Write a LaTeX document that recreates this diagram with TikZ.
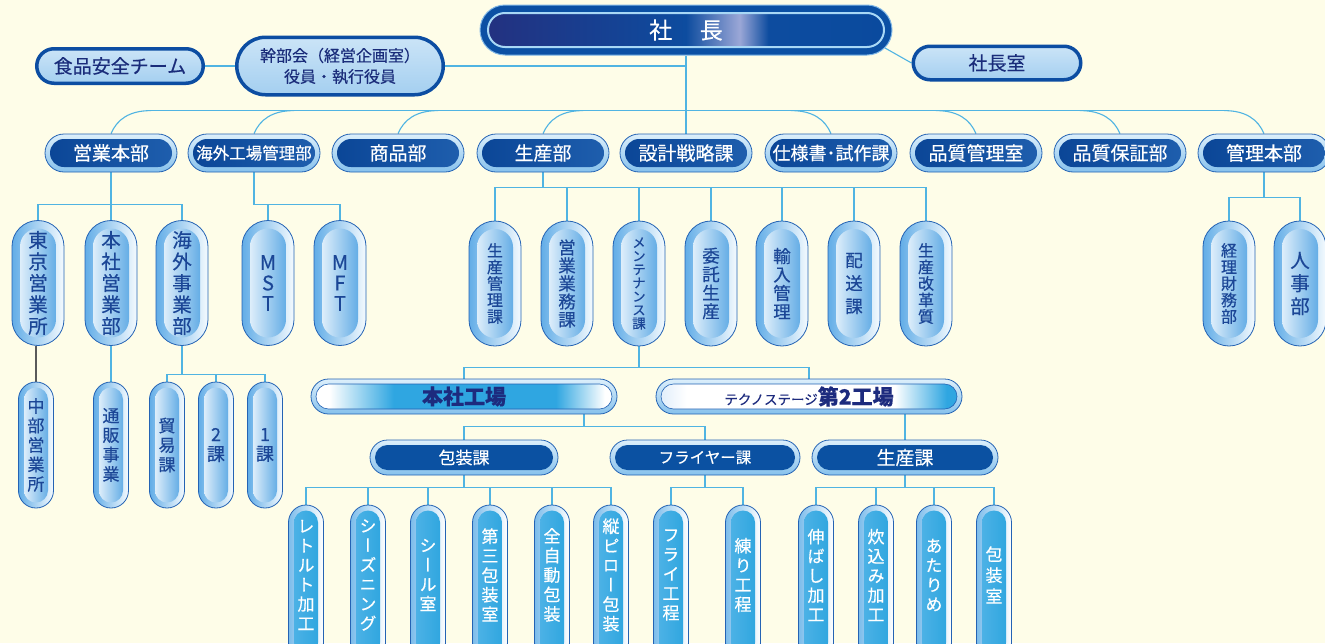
\documentclass[tikz,border=0pt]{standalone}
\usepackage{fontspec}
\newfontfamily\jp[RawFeature={embolden=0.35}]{Noto Sans CJK JP}
\newfontfamily\jpv[RawFeature={+vert;embolden=0.45}]{Noto Sans CJK JP}
\usetikzlibrary{calc}
\pgfdeclarelayer{bg}
\pgfsetlayers{bg,main}
\definecolor{bgc}{HTML}{FEFDE8}
\definecolor{lnc}{HTML}{50B4E2}
\definecolor{ring}{HTML}{2463B4}
\definecolor{ringlt}{HTML}{DCEFFB}
\definecolor{ringdk}{HTML}{86C1EC}
\definecolor{dA}{HTML}{0A4596}
\definecolor{dB}{HTML}{1F5FAE}
\definecolor{secin}{HTML}{0B51A2}
\definecolor{sidebd}{HTML}{0C4DA2}
\definecolor{sidetop}{HTML}{CBE4F7}
\definecolor{sidebot}{HTML}{A4CFF0}
\definecolor{sidetx}{HTML}{1A2C7A}
\definecolor{vtx}{HTML}{1B4696}
\definecolor{voutL}{HTML}{62ADE7}
\definecolor{voutR}{HTML}{F4FAFE}
\definecolor{vinL}{HTML}{F8FCFF}
\definecolor{vinR}{HTML}{4A9FE1}
\definecolor{boutL}{HTML}{7BBCEB}
\definecolor{binL}{HTML}{52B4E7}
\definecolor{binR}{HTML}{2AA4DE}
\definecolor{fb}{HTML}{2FA6E1}
\definecolor{facttx}{HTML}{1D2B7E}
\definecolor{presout}{HTML}{0B50A4}
\definecolor{presedge}{HTML}{7FB6E6}
\definecolor{presring}{HTML}{A8D8F6}
\definecolor{pA}{HTML}{24307F}
\definecolor{pB}{HTML}{0D4C9F}
\definecolor{pC}{HTML}{9BA7D7}
\definecolor{pD}{HTML}{0A4A9E}
\definecolor{tl}{HTML}{DCEBFA}
\definecolor{grayln}{HTML}{5A5A5A}
\pgfdeclarehorizontalshading{presshade}{100bp}{color(0bp)=(pA); color(25bp)=(pA); color(50bp)=(pB); color(56.5bp)=(pC); color(60bp)=(pB); color(75bp)=(pD); color(100bp)=(pD)}
\pgfdeclarehorizontalshading{honshash}{100bp}{color(0bp)=(white); color(28bp)=(white); color(38.5bp)=(fb); color(65bp)=(fb); color(73bp)=(white); color(100bp)=(white)}
\pgfdeclarehorizontalshading{technosh}{100bp}{color(0bp)=(tl); color(25bp)=(tl); color(30bp)=(white); color(64bp)=(white); color(72.5bp)=(fb); color(100bp)=(fb)}
\newcommand\vt[1]{\vbox{\halign{\hfil##\hfil\cr#1\crcr}}}
\newcommand\vtu[1]{\raisebox{7.5pt}[\height][\depth]{\vt{#1}}}
\newcommand\vf[2]{\jpv\fontsize{#1}{#2}\selectfont}
\newcommand\innerbox[3]{\path[#3, rounded corners=#2] ([xshift=#1,yshift=-#1]path picture bounding box.north west) rectangle ([xshift=-#1,yshift=#1]path picture bounding box.south east);}
\tikzset{
 conn/.style={draw=lnc, line width=1.1pt},
 pres/.style={minimum width=412pt, minimum height=50pt, rounded corners=25pt, inner sep=0pt, fill=presout, draw=presedge, line width=1pt, text=white, font=\jp\fontsize{23}{25}\selectfont,
   path picture={\innerbox{8pt}{17pt}{draw=presring, line width=2pt, shade, shading=presshade}}},
 side/.style={inner sep=0pt, draw=sidebd, line width=3.5pt, top color=sidetop, bottom color=sidebot, text=sidetx, font=\jp\fontsize{19}{21}\selectfont, align=center},
 dept/.style={minimum width=132pt, minimum height=38pt, rounded corners=19pt, inner sep=0pt, draw=ring, line width=0.8pt, top color=ringlt, bottom color=ringdk, text=white, font=\jp\fontsize{19}{21}\selectfont,
   path picture={\innerbox{5pt}{14pt}{shade, left color=dA, right color=dB}}},
 sec/.style={minimum height=35pt, rounded corners=17.5pt, inner sep=0pt, draw=ring, line width=0.8pt, top color=ringlt, bottom color=ringdk, text=white,
   path picture={\innerbox{5pt}{12.5pt}{fill=secin}}},
 fact/.style={minimum width=306pt, minimum height=35pt, rounded corners=17.5pt, inner sep=0pt, draw=ring, line width=0.8pt, top color=ringlt, bottom color=ringdk, text=facttx, font=\jp\bfseries\fontsize{21}{23}\selectfont},
 vcap/.style={minimum width=52pt, minimum height=125pt, rounded corners=26pt, inner sep=0pt, draw=ring, line width=0.8pt, left color=voutL, right color=voutR, text=vtx,
   path picture={\innerbox{8pt}{18pt}{shade, left color=vinL, right color=vinR}}},
 scap/.style={minimum width=35pt, minimum height=126pt, rounded corners=17.5pt, inner sep=0pt, draw=ring, line width=0.8pt, left color=voutL, right color=voutR, text=vtx, font={\vf{17}{19.5}},
   path picture={\innerbox{5.5pt}{12pt}{shade, left color=vinL, right color=vinR}}},
 bcap/.style={minimum width=35pt, minimum height=155pt, rounded corners=17.5pt, inner sep=0pt, draw=ring, line width=0.8pt, left color=boutL, right color=white, text=white, font={\vf{17}{19.5}},
   path picture={\innerbox{5.5pt}{12pt}{shade, left color=binL, right color=binR}}},
}
\begin{document}
\begin{tikzpicture}[x=1pt,y=-1pt]
\useasboundingbox (0,0) rectangle (1325,643);
\clip (0,0) rectangle (1325,643);
% top
\node[pres] (pres) at (686,30) {社\hspace{1.2em}長};
\node[side, minimum width=167.5pt, minimum height=33.5pt, rounded corners=16.75pt] (shachoshitsu) at (997,63) {社長室};
\node[side, minimum width=166.5pt, minimum height=34.5pt, rounded corners=17.25pt] (food) at (120,66) {食品安全チーム};
\node[side, minimum width=206.5pt, minimum height=57.5pt, rounded corners=28.75pt, font=\jp\fontsize{16}{21}\selectfont] (kanbu) at (340,66) {幹部会（経営企画室）\\役員・執行役員};
\coordinate (pk) at (885,48);
% departments
\node[dept] (eigyo) at (111,153) {営業本部};
\node[dept, font=\jp\fontsize{16.5}{19}\selectfont] (kaigaikojo) at (254,153) {海外工場管理部};
\node[dept] (shohin) at (398,153) {商品部};
\node[dept] (seisan) at (543,153) {生産部};
\node[dept] (sekkei) at (686,153) {設計戦略課};
\node[dept, font=\jp\fontsize{18}{20}\selectfont] (shiyo) at (831,153) {仕様書･試作課};
\node[dept] (hinkan) at (976,153) {品質管理室};
\node[dept] (hinsho) at (1120,153) {品質保証部};
\node[dept] (kanri) at (1264,153) {管理本部};
% level 2
\node[vcap, font={\vf{19.5}{21.5}}] (tokyo) at (38,283) {\vt{東\cr 京\cr 営\cr 業\cr 所}};
\node[vcap, font={\vf{19.5}{21.5}}] (honshaeigyo) at (111,283) {\vt{本\cr 社\cr 営\cr 業\cr 部}};
\node[vcap, font={\vf{19.5}{21.5}}] (kaigaijigyo) at (182,283) {\vt{海\cr 外\cr 事\cr 業\cr 部}};
\node[vcap, font={\vf{20}{20.5}}] (mst) at (268,283) {\vt{M\cr S\cr T}};
\node[vcap, font={\vf{20}{20.5}}] (mft) at (340,283) {\vt{M\cr F\cr T}};
\node[vcap, font={\vf{16}{16.5}}] (seisankanri) at (495,283.5) {\vt{生\cr 産\cr 管\cr 理\cr 課}};
\node[vcap, font={\vf{17.5}{18}}] (eigyogyomu) at (567,283.5) {\vt{営\cr 業\cr 業\cr 務\cr 課}};
\node[vcap, font={\vf{13.5}{13.5}}] (mainte) at (639,283.5) {\vt{メ\cr ン\cr テ\cr ナ\cr ン\cr ス\cr 課}};
\node[vcap, font={\vf{17.5}{18.5}}] (itaku) at (711,283.5) {\vt{委\cr 託\cr 生\cr 産}};
\node[vcap, font={\vf{17.5}{18.5}}] (yunyu) at (782,283.5) {\vt{輸\cr 入\cr 管\cr 理}};
\node[vcap, font={\vf{17.5}{23}}] (haiso) at (854,283.5) {\vt{配\cr 送\cr 課}};
\node[vcap, font={\vf{16}{16.5}}] (kaikaku) at (926,283.5) {\vt{生\cr 産\cr 改\cr 革\cr 質}};
\node[vcap, font={\vf{16}{16.5}}] (keiri) at (1229,283.5) {\vt{経\cr 理\cr 財\cr 務\cr 部}};
\node[vcap, font={\vf{19.5}{23}}] (jinji) at (1300,283.5) {\vt{人\cr 事\cr 部}};
% level 2b
\node[scap] (chubu) at (36,445) {\vt{中\cr 部\cr 営\cr 業\cr 所}};
\node[scap] (tsuhan) at (111,445) {\vt{通\cr 販\cr 事\cr 業}};
\node[scap] (boeki) at (167,445) {\vt{貿\cr 易\cr 課}};
\node[scap, font={\vf{18}{19.5}}] (ni) at (216,445) {\vt{2\cr 課}};
\node[scap, font={\vf{18}{19.5}}] (ichi) at (265,445) {\vt{1\cr 課}};
% factories
\node[fact, path picture={\innerbox{5pt}{12.5pt}{draw=ring, line width=0.6pt, shade, shading=honshash}}] (honshakojo) at (464,396.5) {本社工場};
\node[fact, path picture={\innerbox{5pt}{12.5pt}{draw=ring, line width=0.6pt, shade, shading=technosh}}] (techno) at (809,396.5) {{\mdseries\fontsize{13.5}{15}\selectfont テクノステージ}第2工場};
% sections
\node[sec, minimum width=188pt, font=\jp\fontsize{17}{19}\selectfont] (hoso) at (464,457.5) {包装課};
\node[sec, minimum width=190pt, font=\jp\fontsize{15.5}{18}\selectfont] (fryer) at (705,457.5) {フライヤー課};
\node[sec, minimum width=186pt, font=\jp\fontsize{19}{21}\selectfont] (seisanka) at (905,457.5) {生産課};
% bottom
\node[bcap] (retort) at (306,582.5) {\vtu{レ\cr ト\cr ル\cr ト\cr 加\cr 工}};
\node[bcap] (seasoning) at (368,582.5) {\vtu{シ\cr ー\cr ズ\cr ニ\cr ン\cr グ}};
\node[bcap] (seal) at (428,582.5) {\vtu{シ\cr ー\cr ル\cr 室}};
\node[bcap] (daisan) at (490,582.5) {\vtu{第\cr 三\cr 包\cr 装\cr 室}};
\node[bcap] (zenjido) at (552,582.5) {\vtu{全\cr 自\cr 動\cr 包\cr 装}};
\node[bcap] (tatepillow) at (611,582.5) {\vtu{縦\cr ピ\cr ロ\cr ー\cr 包\cr 装}};
\node[bcap] (fry) at (671,582.5) {\vtu{フ\cr ラ\cr イ\cr 工\cr 程}};
\node[bcap] (neri) at (743,582.5) {\vtu{練\cr り\cr 工\cr 程}};
\node[bcap] (nobashi) at (816,582.5) {\vtu{伸\cr ば\cr し\cr 加\cr 工}};
\node[bcap] (takikomi) at (876,582.5) {\vtu{炊\cr 込\cr み\cr 加\cr 工}};
\node[bcap] (atarime) at (934,582.5) {\vtu{あ\cr た\cr り\cr め}};
\node[bcap, font={\vf{17}{21}}] (hososhitsu) at (994,582.5) {\vtu{包\cr 装\cr 室}};
% connectors
\begin{pgfonlayer}{bg}
\fill[bgc] (0,0) rectangle (1325,643);
\draw[conn] (food) -- (kanbu);
\draw[conn] (kanbu.east) -- (kanbu.east -| pres.south);
\draw[conn] (pk) -- (shachoshitsu.west);
\draw[conn] (pres) -- (sekkei);
\draw[conn] ($(eigyo.north)+(40,-23)$) -- ($(kanri.north)+(-40,-23)$);
\foreach \n in {eigyo,kaigaikojo,shohin,seisan}
  \draw[conn] (\n.north) .. controls +(6,-14) and +(-22,0) .. ($(\n.north)+(40,-23)$);
\foreach \n in {shiyo,hinkan,hinsho,kanri}
  \draw[conn] (\n.north) .. controls +(-6,-14) and +(22,0) .. ($(\n.north)+(-40,-23)$);
\foreach \c in {tokyo,honshaeigyo,kaigaijigyo}
  \draw[conn] (eigyo.south) -- ++(0,32) -| (\c.north);
\foreach \c in {mst,mft}
  \draw[conn] (kaigaikojo.south) -- ++(0,32) -| (\c.north);
\foreach \c in {seisankanri,eigyogyomu,mainte,itaku,yunyu,haiso,kaikaku}
  \draw[conn] (seisan.south) -- ++(0,15) -| (\c.north);
\foreach \c in {keiri,jinji}
  \draw[conn] (kanri.south) -- ++(0,25) -| (\c.north);
\draw[conn, draw=grayln] (tokyo.south -| chubu.north) -- (chubu.north);
\draw[conn] (honshaeigyo) -- (tsuhan);
\foreach \c in {boeki,ni,ichi}
  \draw[conn] (kaigaijigyo.south) -- ++(0,29) -| (\c.north);
\foreach \c in {honshakojo,techno}
  \draw[conn] (mainte.south) -- ++(0,21) -| (\c.north);
\foreach \c in {hoso,fryer}
  \draw[conn] ([xshift=120pt]honshakojo.south) -- ++(0,12) -| (\c.north);
\draw[conn] (seisanka.north) -- (seisanka.north |- techno.south);
\foreach \c in {retort,seasoning,seal,daisan,zenjido,tatepillow}
  \draw[conn] (hoso.south) -- ++(0,12) -| (\c.north);
\foreach \c in {fry,neri}
  \draw[conn] (fryer.south) -- ++(0,12) -| (\c.north);
\foreach \c in {nobashi,takikomi,atarime,hososhitsu}
  \draw[conn] (seisanka.south) -- ++(0,12) -| (\c.north);
\end{pgfonlayer}
\end{tikzpicture}
\end{document}
